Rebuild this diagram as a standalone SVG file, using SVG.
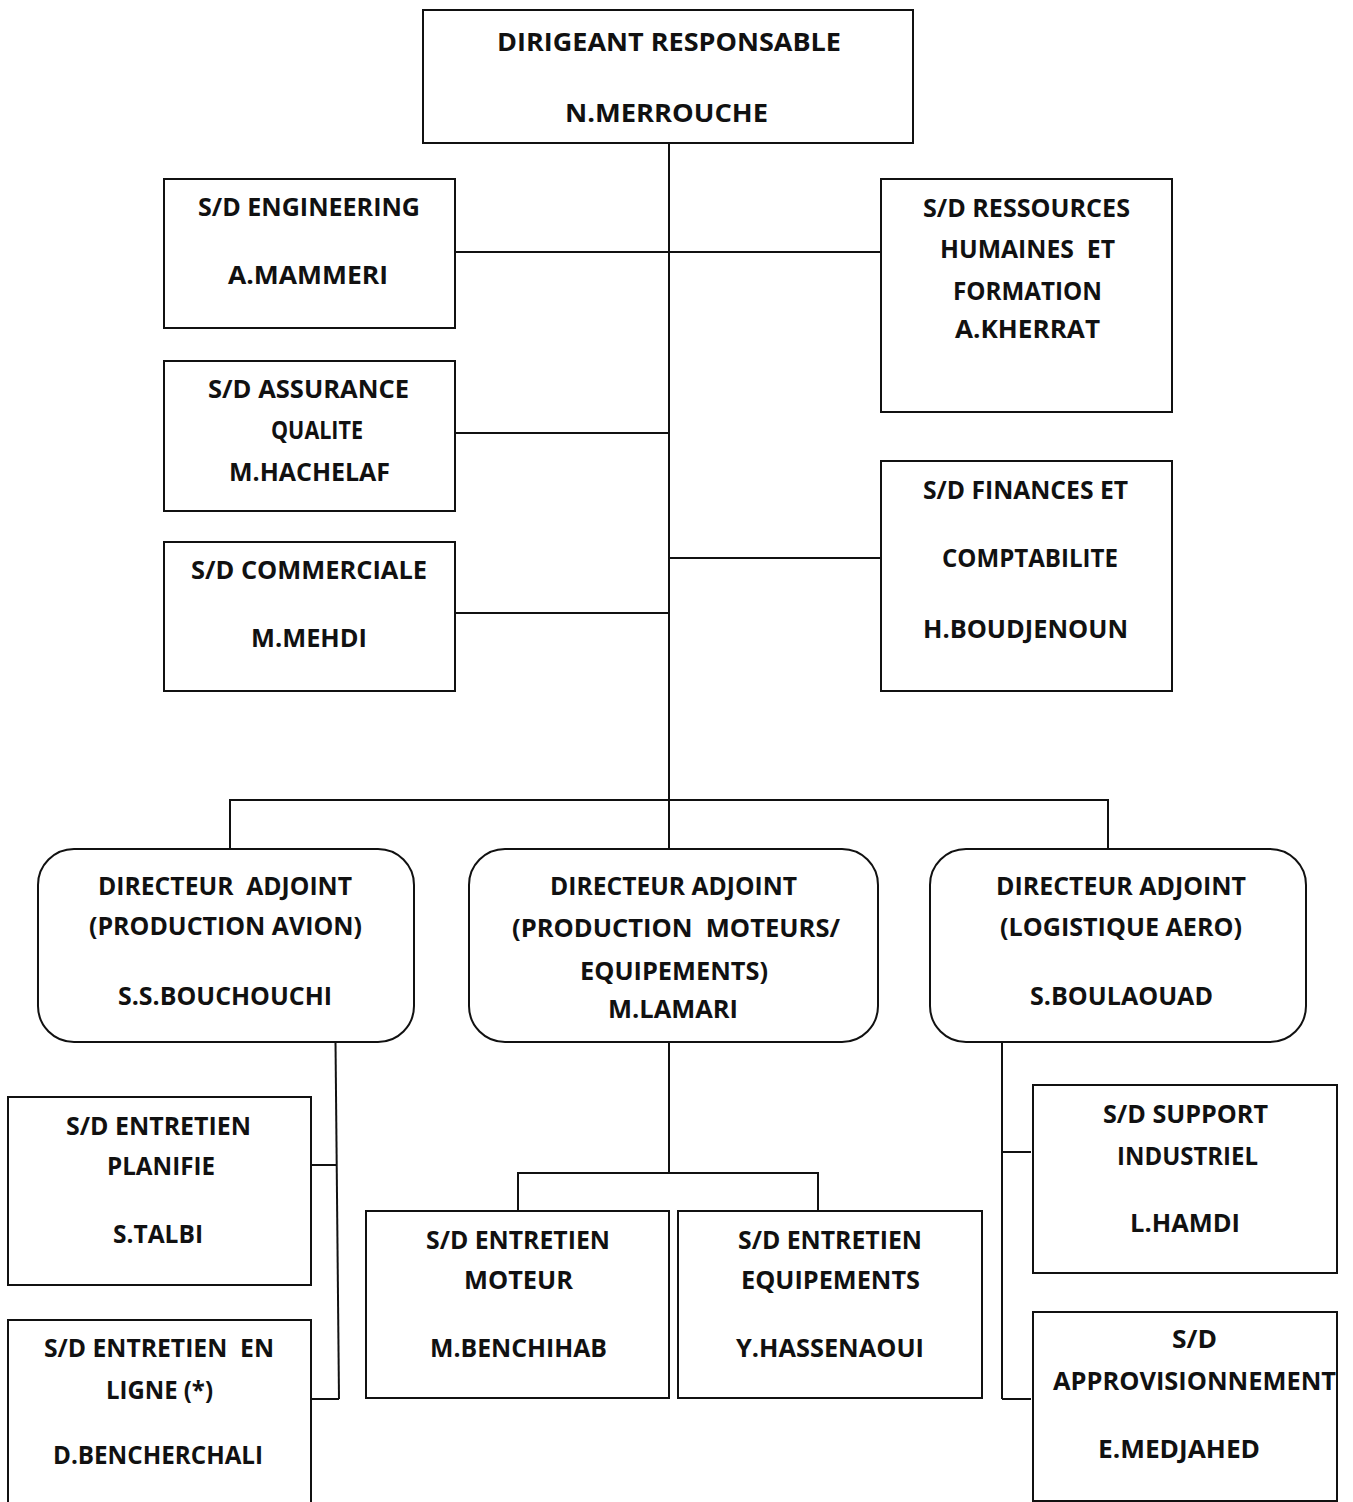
<svg xmlns="http://www.w3.org/2000/svg" width="1353" height="1502" viewBox="0 0 1353 1502">
  <style>
    .box { fill: #ffffff; stroke: #111111; stroke-width: 2; }
    .link { fill: none; stroke: #111111; stroke-width: 2; }
    text { font-family: "Open Sans", Lato, "Liberation Sans", sans-serif; font-weight: bold; font-size: 25px; fill: #111111; text-anchor: middle; white-space: pre; }
  </style>
  <rect width="1353" height="1502" fill="#ffffff"/>

  <!-- connectors -->
  <g id="connectors" class="link">
    <path d="M669 143 V800"/>
    <path d="M455 252 H881"/>
    <path d="M455 433 H669"/>
    <path d="M669 558 H881"/>
    <path d="M455 613 H669"/>
    <path d="M230 849 V800 H1108 V849"/>
    <path d="M669 800 V849"/>
    <path d="M335.5 1042 L339 1399"/>
    <path d="M311 1165 H336"/>
    <path d="M311 1399 H339"/>
    <path d="M669 1042 V1173"/>
    <path d="M518 1211 V1173 H818 V1211"/>
    <path d="M1002 1042 V1399"/>
    <path d="M1002 1152 H1031"/>
    <path d="M1002 1399 H1031"/>
  </g>

  <g id="dirigeant">
    <rect class="box" x="423" y="10" width="490" height="133"/>
    <text x="669" y="51" textLength="344" lengthAdjust="spacingAndGlyphs">DIRIGEANT RESPONSABLE</text>
    <text x="666.5" y="122" textLength="203" lengthAdjust="spacingAndGlyphs">N.MERROUCHE</text>
  </g>

  <g id="engineering">
    <rect class="box" x="164" y="179" width="291" height="149"/>
    <text x="309" y="216" textLength="222" lengthAdjust="spacingAndGlyphs">S/D ENGINEERING</text>
    <text x="308" y="284" textLength="160" lengthAdjust="spacingAndGlyphs">A.MAMMERI</text>
  </g>

  <g id="ressources-humaines">
    <rect class="box" x="881" y="179" width="291" height="233"/>
    <text x="1026.5" y="217" textLength="207" lengthAdjust="spacingAndGlyphs">S/D RESSOURCES</text>
    <text x="1027.5" y="258" textLength="175" lengthAdjust="spacingAndGlyphs">HUMAINES  ET</text>
    <text x="1027.5" y="300" textLength="149" lengthAdjust="spacingAndGlyphs">FORMATION</text>
    <text x="1027.5" y="338" textLength="145" lengthAdjust="spacingAndGlyphs">A.KHERRAT</text>
  </g>

  <g id="assurance-qualite">
    <rect class="box" x="164" y="361" width="291" height="150"/>
    <text x="308.5" y="398" textLength="201" lengthAdjust="spacingAndGlyphs">S/D ASSURANCE</text>
    <text x="317" y="439" textLength="92" lengthAdjust="spacingAndGlyphs">QUALITE</text>
    <text x="309.5" y="481" textLength="161" lengthAdjust="spacingAndGlyphs">M.HACHELAF</text>
  </g>

  <g id="finances">
    <rect class="box" x="881" y="461" width="291" height="230"/>
    <text x="1025.5" y="499" textLength="205" lengthAdjust="spacingAndGlyphs">S/D FINANCES ET</text>
    <text x="1030" y="567" textLength="176" lengthAdjust="spacingAndGlyphs">COMPTABILITE</text>
    <text x="1025.5" y="638" textLength="205" lengthAdjust="spacingAndGlyphs">H.BOUDJENOUN</text>
  </g>

  <g id="commerciale">
    <rect class="box" x="164" y="542" width="291" height="149"/>
    <text x="309" y="579" textLength="236" lengthAdjust="spacingAndGlyphs">S/D COMMERCIALE</text>
    <text x="309" y="647" textLength="116" lengthAdjust="spacingAndGlyphs">M.MEHDI</text>
  </g>

  <g id="da-production-avion">
    <rect class="box" x="38" y="849" width="376" height="193" rx="36"/>
    <text x="225" y="895" textLength="254" lengthAdjust="spacingAndGlyphs">DIRECTEUR  ADJOINT</text>
    <text x="225.5" y="935" textLength="273" lengthAdjust="spacingAndGlyphs">(PRODUCTION AVION)</text>
    <text x="225" y="1005" textLength="214" lengthAdjust="spacingAndGlyphs">S.S.BOUCHOUCHI</text>
  </g>

  <g id="da-production-moteurs">
    <rect class="box" x="469" y="849" width="409" height="193" rx="36"/>
    <text x="673.5" y="895" textLength="247" lengthAdjust="spacingAndGlyphs">DIRECTEUR ADJOINT</text>
    <text x="676" y="937" textLength="328" lengthAdjust="spacingAndGlyphs">(PRODUCTION  MOTEURS/</text>
    <text x="674" y="980" textLength="188" lengthAdjust="spacingAndGlyphs">EQUIPEMENTS)</text>
    <text x="673" y="1018" textLength="130" lengthAdjust="spacingAndGlyphs">M.LAMARI</text>
  </g>

  <g id="da-logistique">
    <rect class="box" x="930" y="849" width="376" height="193" rx="36"/>
    <text x="1121" y="895" textLength="250" lengthAdjust="spacingAndGlyphs">DIRECTEUR ADJOINT</text>
    <text x="1121" y="936" textLength="242" lengthAdjust="spacingAndGlyphs">(LOGISTIQUE AERO)</text>
    <text x="1121.5" y="1005" textLength="183" lengthAdjust="spacingAndGlyphs">S.BOULAOUAD</text>
  </g>

  <g id="entretien-planifie">
    <rect class="box" x="8" y="1097" width="303" height="188"/>
    <text x="158.5" y="1135" textLength="185" lengthAdjust="spacingAndGlyphs">S/D ENTRETIEN</text>
    <text x="161" y="1175" textLength="108" lengthAdjust="spacingAndGlyphs">PLANIFIE</text>
    <text x="158" y="1243" textLength="90" lengthAdjust="spacingAndGlyphs">S.TALBI</text>
  </g>

  <g id="entretien-en-ligne">
    <rect class="box" x="8" y="1320" width="303" height="200"/>
    <text x="159" y="1357" textLength="230" lengthAdjust="spacingAndGlyphs">S/D ENTRETIEN  EN</text>
    <text x="159.5" y="1399" textLength="107" lengthAdjust="spacingAndGlyphs">LIGNE (*)</text>
    <text x="158" y="1464" textLength="210" lengthAdjust="spacingAndGlyphs">D.BENCHERCHALI</text>
  </g>

  <g id="entretien-moteur">
    <rect class="box" x="366" y="1211" width="303" height="187"/>
    <text x="518" y="1249" textLength="184" lengthAdjust="spacingAndGlyphs">S/D ENTRETIEN</text>
    <text x="518.5" y="1289" textLength="109" lengthAdjust="spacingAndGlyphs">MOTEUR</text>
    <text x="518.5" y="1357" textLength="177" lengthAdjust="spacingAndGlyphs">M.BENCHIHAB</text>
  </g>

  <g id="entretien-equipements">
    <rect class="box" x="678" y="1211" width="304" height="187"/>
    <text x="830" y="1249" textLength="184" lengthAdjust="spacingAndGlyphs">S/D ENTRETIEN</text>
    <text x="830.5" y="1289" textLength="179" lengthAdjust="spacingAndGlyphs">EQUIPEMENTS</text>
    <text x="830" y="1357" textLength="188" lengthAdjust="spacingAndGlyphs">Y.HASSENAOUI</text>
  </g>

  <g id="support-industriel">
    <rect class="box" x="1033" y="1085" width="304" height="188"/>
    <text x="1185.5" y="1123" textLength="165" lengthAdjust="spacingAndGlyphs">S/D SUPPORT</text>
    <text x="1187.5" y="1165" textLength="141" lengthAdjust="spacingAndGlyphs">INDUSTRIEL</text>
    <text x="1185" y="1232" textLength="110" lengthAdjust="spacingAndGlyphs">L.HAMDI</text>
  </g>

  <g id="approvisionnement">
    <rect class="box" x="1033" y="1312" width="304" height="189"/>
    <text x="1194.5" y="1348" textLength="45" lengthAdjust="spacingAndGlyphs">S/D</text>
    <text x="1194.5" y="1390" textLength="283" lengthAdjust="spacingAndGlyphs">APPROVISIONNEMENT</text>
    <text x="1179" y="1458" textLength="162" lengthAdjust="spacingAndGlyphs">E.MEDJAHED</text>
  </g>
</svg>
